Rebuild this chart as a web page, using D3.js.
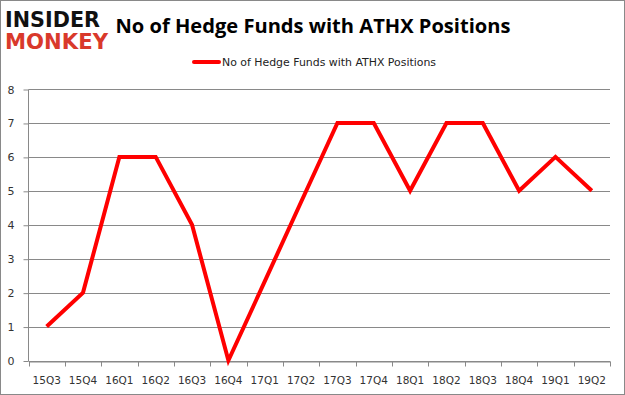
<!DOCTYPE html>
<html><head><meta charset="utf-8">
<script src="https://cdn.jsdelivr.net/npm/d3@7"></script>
<style>body{margin:0;background:#fff}svg{display:block}</style>
</head><body>
<script>
const categories = ["15Q3","15Q4","16Q1","16Q2","16Q3","16Q4","17Q1","17Q2","17Q3","17Q4","18Q1","18Q2","18Q3","18Q4","19Q1","19Q2"];
const values = [1,2,6,6,4,0,2.33,4.67,7,7,5,7,7,5,6,5];
const yTicks = [0,1,2,3,4,5,6,7,8];
const seriesName = "No of Hedge Funds with ATHX Positions";
const titleText = "No of Hedge Funds with ATHX Positions";

(function(){
const W = 625, H = 395;
const svg = d3.select("body").append("svg").attr("width", W).attr("height", H);
svg.append("rect").attr("x",0.5).attr("y",0.5).attr("width",W-1).attr("height",H-1)
  .attr("fill","#fff").attr("stroke","#898989");

const pl = 28.5, pr = 610, pt = 89, pb = 360.5;
const x = d3.scaleBand().domain(categories).range([pl, pr]);
const y = d3.scaleLinear().domain([0,8]).range([pb, pt]);

// gridlines
svg.append("g").selectAll("line").data(yTicks).join("line")
  .attr("x1", pl).attr("x2", pr)
  .attr("y1", d => Math.round(y(d))+0.5).attr("y2", d => Math.round(y(d))+0.5)
  .attr("stroke","#898989").attr("stroke-width",1);

// y axis
const yAxis = d3.axisLeft(y).tickValues(yTicks).tickSize(5).tickPadding(6).tickFormat(d3.format("d"));
const gy = svg.append("g").attr("transform",`translate(${pl},0.5)`).call(yAxis);
gy.select(".domain").attr("stroke","#898989").attr("d",`M0,${pt}V${pb}`);
gy.selectAll(".tick line").attr("stroke","#898989");
gy.selectAll("text").attr("font-family","'DejaVu Sans', sans-serif").attr("font-size",11).attr("fill","#333").attr("dx",-3);

// x axis
const xAxis = d3.axisBottom(x).tickSize(0).tickPadding(15);
const gx = svg.append("g").attr("transform",`translate(0,${Math.round(pb)+0.5})`).call(xAxis);
gx.select(".domain").attr("stroke","#898989");
gx.selectAll("text").attr("font-family","'DejaVu Sans', sans-serif").attr("font-size",10.5).attr("fill","#333");
const bounds = categories.map(c => x(c)).concat([pr]);
gx.append("g").selectAll("line").data(bounds).join("line")
  .attr("x1", d => Math.round(d)+0.5).attr("x2", d => Math.round(d)+0.5)
  .attr("y1",0).attr("y2",5).attr("stroke","#898989");

// line
const line = d3.line().x((d,i) => x(categories[i]) + x.bandwidth()/2).y(d => y(d));
svg.append("path").datum(values).attr("d", line).attr("fill","none")
  .attr("stroke","#ff0000").attr("stroke-width",4).attr("stroke-linejoin","miter");

// title
svg.append("text").attr("x",313).attr("y",33).attr("text-anchor","middle")
  .attr("font-family","'Open Sans', sans-serif").attr("font-weight","bold").attr("font-size",20)
  .attr("textLength",395).attr("lengthAdjust","spacingAndGlyphs")
  .attr("fill","#000").text(titleText);

// legend
svg.append("line").attr("x1",194).attr("x2",219).attr("y1",62).attr("y2",62)
  .attr("stroke","#ff0000").attr("stroke-width",4).attr("stroke-linecap","round");
svg.append("text").attr("x",222).attr("y",66)
  .attr("font-family","'DejaVu Sans', sans-serif").attr("font-size",10.5)
  .attr("textLength",214).attr("lengthAdjust","spacingAndGlyphs")
  .attr("fill","#222").text(seriesName);

// logo
svg.append("text").attr("x",5).attr("y",27)
  .attr("font-family","'DejaVu Sans', sans-serif").attr("font-weight","900").attr("font-size",21)
  .attr("textLength",95).attr("lengthAdjust","spacingAndGlyphs").attr("fill","#111").text("INSIDER");
svg.append("text").attr("x",5).attr("y",49)
  .attr("font-family","'DejaVu Sans', sans-serif").attr("font-weight","900").attr("font-size",21)
  .attr("textLength",103).attr("lengthAdjust","spacingAndGlyphs").attr("fill","#d9392b").text("MONKEY");
})();
</script>
</body></html>
